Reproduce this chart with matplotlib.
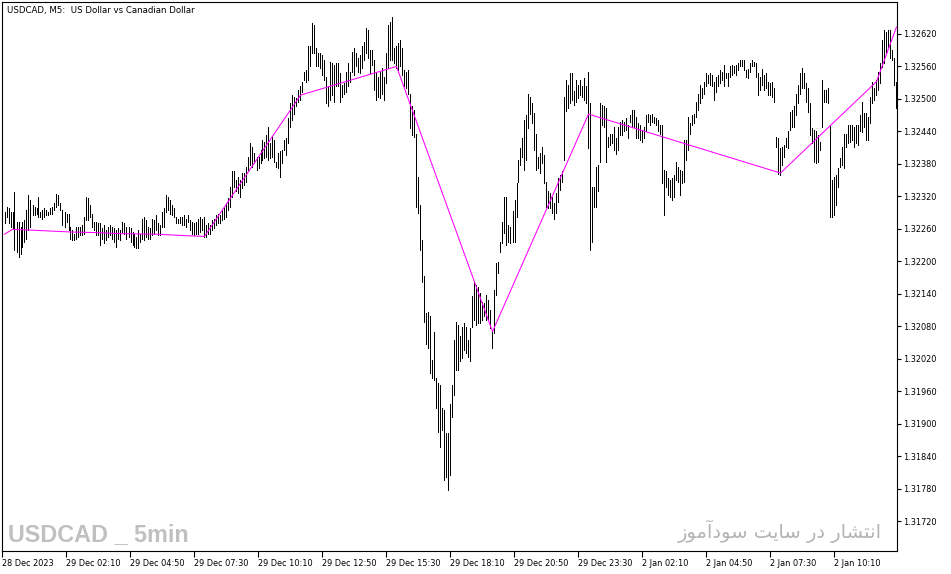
import numpy as np
import matplotlib
matplotlib.use("Agg")
import matplotlib.pyplot as plt

chart_title = "USDCAD, M5:  US Dollar vs Canadian Dollar"
watermark_left = "USDCAD _ 5min"
# "انتشار در سایت سودآموز" written with Arabic presentation forms in visual order,
# because matplotlib does no Arabic shaping / right-to-left layout itself
watermark_right = ("\uFEAF\uFEEE\uFEE3\uFE81\uFEA9\uFEEE\uFEB3 "
                   "\uFE96\uFEF3\uFE8E\uFEB3 "
                   "\uFEAD\uFEA9 "
                   "\uFEAD\uFE8E\uFEB8\uFE98\uFEE7\uFE8D")

time_labels = ["28 Dec 2023", "29 Dec 02:10", "29 Dec 04:50", "29 Dec 07:30",
               "29 Dec 10:10", "29 Dec 12:50", "29 Dec 15:30", "29 Dec 18:10",
               "29 Dec 20:50", "29 Dec 23:30", "2 Jan 02:10", "2 Jan 04:50",
               "2 Jan 07:30", "2 Jan 10:10"]
bars_per_label = 32

price_ticks = [1.32620, 1.32560, 1.32500, 1.32440, 1.32380, 1.32320, 1.32260,
               1.32200, 1.32140, 1.32080, 1.32020, 1.31960, 1.31900, 1.31840,
               1.31780, 1.31720]

# M5 bar highs / lows, in points above 1.30000 (2291 -> 1.32291)
highs_pts = [
    2291, 2301, 2298, 2291, 2291, 2328, 2273, 2273, 2264, 2273,
    2276, 2295, 2322, 2313, 2304, 2301, 2298, 2319, 2291, 2295,
    2298, 2295, 2291, 2298, 2301, 2307, 2325, 2322, 2307, 2295,
    2291, 2288, 2288, 2264, 2258, 2251, 2264, 2264, 2264, 2267,
    2282, 2319, 2316, 2304, 2288, 2273, 2273, 2270, 2270, 2261,
    2267, 2258, 2264, 2267, 2264, 2261, 2258, 2261, 2258, 2273,
    2270, 2264, 2264, 2261, 2254, 2251, 2245, 2258, 2251, 2279,
    2282, 2276, 2264, 2261, 2279, 2276, 2285, 2270, 2267, 2291,
    2298, 2322, 2319, 2313, 2304, 2298, 2282, 2279, 2282, 2282,
    2285, 2279, 2285, 2276, 2273, 2270, 2273, 2279, 2282, 2279,
    2282, 2267, 2270, 2267, 2276, 2279, 2285, 2288,
    2286, 2295, 2301, 2307, 2316, 2338, 2366, 2366, 2350, 2356,
    2350, 2363, 2363, 2375, 2393, 2418, 2412, 2400, 2393, 2393,
    2406, 2424, 2421, 2433, 2449, 2418, 2430, 2424, 2384, 2400,
    2403, 2406, 2424, 2427, 2464, 2492, 2507, 2504, 2501, 2517,
    2523, 2532, 2550, 2554, 2597, 2597, 2640, 2637, 2594, 2584,
    2584, 2581, 2572, 2541, 2523, 2569, 2566, 2563, 2566, 2566,
    2547, 2526, 2529, 2550, 2566, 2550, 2587, 2594, 2584, 2575,
    2581, 2597, 2606, 2631, 2627, 2590, 2590, 2572, 2550, 2541,
    2550, 2557, 2541, 2584, 2637, 2643, 2652, 2594, 2597, 2603,
    2609, 2594, 2554, 2550, 2554, 2510, 2486, 2480, 2436, 2356,
    2304, 2239, 2172, 2104, 2107, 2098, 2018, 2070, 1984, 1975,
    1971, 1928, 1925, 1882, 1882, 1937, 1971, 2055, 2088, 2082,
    2061, 2079, 2085, 2079, 2055, 2076, 2135, 2162, 2156, 2153,
    2141, 2125, 2122, 2138, 2128, 2110, 2073, 2147, 2196, 2199,
    2236, 2273, 2319, 2319, 2267, 2264, 2292, 2313, 2344, 2387,
    2409, 2427, 2461, 2470, 2510, 2504, 2492, 2474, 2436, 2393,
    2400, 2412, 2396, 2347, 2329, 2326, 2319, 2307, 2326, 2353,
    2360, 2366, 2504, 2535, 2526, 2547, 2547, 2514, 2535, 2526,
    2535, 2523, 2538, 2523, 2550, 2492, 2338, 2338, 2375, 2378,
    2492, 2489, 2486, 2483, 2430, 2436, 2436, 2449, 2427, 2449,
    2458, 2461, 2458, 2464, 2452, 2470, 2480, 2480, 2467, 2455,
    2452, 2443, 2449, 2470, 2473, 2470, 2473, 2467, 2464, 2461,
    2452, 2452, 2369, 2366, 2353, 2350, 2353, 2359, 2384, 2375,
    2369, 2366, 2424, 2424, 2467, 2455, 2470, 2473, 2495, 2510,
    2526, 2520, 2532, 2547, 2544, 2547, 2544, 2532, 2541, 2544,
    2553, 2550, 2563, 2547, 2547, 2560, 2563, 2560, 2563, 2566,
    2572, 2572, 2572, 2553, 2556, 2566, 2572, 2569, 2566, 2547,
    2541, 2556, 2544, 2547, 2532, 2529, 2532, 2520, 2430, 2427,
    2409, 2412, 2415, 2427, 2440, 2476, 2480, 2486, 2510, 2526,
    2547, 2557, 2547, 2529, 2520, 2492, 2446, 2443, 2440, 2433,
    2421, 2535, 2517, 2517, 2520, 2452, 2350, 2356, 2359, 2372,
    2390, 2412, 2436, 2436, 2452, 2452, 2452, 2449, 2452, 2452,
    2470, 2494, 2474, 2474, 2467, 2504, 2531, 2520, 2535, 2550,
    2566, 2609, 2627, 2624, 2627, 2627, 2590, 2576, 2531,
]
lows_pts = [
    2270, 2282, 2270, 2264, 2261, 2221, 2218, 2208, 2214, 2227,
    2236, 2242, 2258, 2264, 2285, 2285, 2288, 2282, 2282, 2279,
    2282, 2285, 2285, 2288, 2288, 2295, 2301, 2304, 2295, 2267,
    2264, 2273, 2258, 2242, 2239, 2239, 2242, 2245, 2248, 2248,
    2251, 2276, 2276, 2282, 2264, 2258, 2248, 2248, 2230, 2242,
    2233, 2239, 2245, 2248, 2242, 2236, 2227, 2242, 2239, 2254,
    2251, 2242, 2245, 2236, 2230, 2227, 2224, 2224, 2236, 2242,
    2239, 2245, 2242, 2242, 2248, 2251, 2258, 2248, 2248, 2264,
    2264, 2291, 2295, 2288, 2285, 2282, 2270, 2270, 2270, 2267,
    2267, 2264, 2273, 2258, 2251, 2248, 2251, 2251, 2254, 2258,
    2245, 2245, 2251, 2251, 2258, 2261, 2267, 2270,
    2270, 2276, 2279, 2282, 2295, 2301, 2319, 2338, 2329, 2326,
    2319, 2335, 2341, 2347, 2369, 2378, 2375, 2381, 2369, 2372,
    2381, 2387, 2390, 2393, 2387, 2390, 2393, 2384, 2375, 2372,
    2356, 2381, 2406, 2396, 2418, 2449, 2461, 2473, 2486, 2495,
    2498, 2513, 2535, 2532, 2535, 2560, 2584, 2584, 2560, 2560,
    2557, 2544, 2535, 2492, 2486, 2498, 2507, 2495, 2523, 2523,
    2495, 2504, 2510, 2513, 2523, 2532, 2550, 2544, 2560, 2550,
    2547, 2557, 2572, 2584, 2575, 2547, 2563, 2517, 2498, 2504,
    2501, 2510, 2498, 2529, 2557, 2572, 2572, 2566, 2557, 2553,
    2560, 2544, 2523, 2520, 2510, 2446, 2433, 2430, 2301, 2289,
    2221, 2162, 2088, 2048, 2039, 1993, 1984, 1981, 1928, 1885,
    1857, 1888, 1796, 1802, 1777, 1805, 1913, 1953, 1999, 1999,
    2015, 2021, 2036, 2030, 2024, 2015, 2079, 2092, 2082, 2085,
    2085, 2092, 2098, 2092, 2092, 2076, 2039, 2067, 2138, 2178,
    2218, 2233, 2252, 2230, 2236, 2233, 2236, 2236, 2282, 2347,
    2378, 2393, 2369, 2387, 2446, 2473, 2455, 2406, 2369, 2372,
    2363, 2381, 2344, 2301, 2298, 2298, 2289, 2279, 2289, 2310,
    2332, 2347, 2387, 2477, 2483, 2492, 2498, 2489, 2495, 2501,
    2507, 2504, 2498, 2492, 2409, 2221, 2236, 2301, 2301, 2330,
    2384, 2452, 2449, 2384, 2412, 2415, 2418, 2406, 2399, 2406,
    2433, 2433, 2440, 2443, 2427, 2458, 2449, 2449, 2427, 2427,
    2424, 2421, 2427, 2440, 2458, 2452, 2458, 2455, 2452, 2440,
    2436, 2344, 2286, 2338, 2322, 2319, 2313, 2319, 2350, 2347,
    2322, 2344, 2347, 2387, 2406, 2436, 2452, 2455, 2467, 2480,
    2492, 2501, 2510, 2523, 2529, 2526, 2523, 2498, 2513, 2523,
    2529, 2535, 2523, 2538, 2523, 2541, 2544, 2547, 2544, 2553,
    2560, 2560, 2553, 2541, 2538, 2550, 2560, 2560, 2541, 2507,
    2517, 2526, 2517, 2520, 2507, 2507, 2504, 2495, 2412, 2362,
    2359, 2378, 2393, 2412, 2409, 2443, 2449, 2449, 2470, 2492,
    2510, 2520, 2520, 2495, 2476, 2433, 2418, 2384, 2381, 2384,
    2406, 2449, 2495, 2495, 2492, 2282, 2282, 2286, 2304, 2338,
    2375, 2378, 2372, 2412, 2418, 2421, 2424, 2412, 2418, 2415,
    2440, 2439, 2448, 2424, 2424, 2456, 2492, 2498, 2507, 2516,
    2529, 2559, 2566, 2585, 2596, 2576, 2572, 2526, 2483,
]

# ZigZag line: bar index and price (points above 1.30000) of each vertex
zigzag_bar = [0, 4, 11, 22, 34, 46, 59, 76, 92, 100, 148, 196, 244, 292, 388, 436, 446]
zigzag_pts = [2250, 2259, 2258, 2256, 2254, 2253, 2251, 2250, 2247, 2246,
              2507, 2560, 2070, 2472, 2363, 2532, 2633]

highs = 1.3 + np.array(highs_pts) / 1e5
lows = 1.3 + np.array(lows_pts) / 1e5
zigzag_price = 1.3 + np.array(zigzag_pts) / 1e5
bar_index = np.arange(len(highs))

W, H = 951, 574
fig = plt.figure(figsize=(W / 100, H / 100), dpi=100)
fig.patch.set_facecolor("white")
ax = fig.add_axes([2 / W, 23 / H, 895 / W, 549 / H])

# one pixel wide bars, like the terminal draws them at this zoom
ax.vlines(bar_index, lows, highs, colors="black", linewidth=0.72, antialiased=False)
ax.plot(zigzag_bar, zigzag_price, color="#ff00ff", linewidth=0.75)

ax.set_xlim(-1.25, 446.25)
ax.set_ylim(1.316646, 1.326791)

ax.yaxis.tick_right()
ax.set_yticks(price_ticks)
ax.set_yticklabels([f"{p:.5f}" for p in price_ticks])
ax.set_xticks(np.arange(len(time_labels)) * bars_per_label - 1.25)
ax.set_xticklabels(time_labels, ha="left")
ax.tick_params(axis="x", length=4, width=0.8, pad=1.5, labelsize=5.9)
ax.tick_params(axis="y", length=3, width=0.8, pad=1.5, labelsize=5.9)
for sp in ax.spines.values():
    sp.set_linewidth(0.8)

fig.text(7 / W, 1 - 10 / H, chart_title, fontsize=6.2, va="center", ha="left")

fig.text(8 / W, 1 - 541 / H, watermark_left, fontsize=16.8, fontweight="bold",
         family=["Liberation Sans Narrow", "Liberation Sans", "DejaVu Sans"],
         color="#c0c0c0", va="baseline", ha="left")
fig.text(882 / W, 1 - 538 / H, watermark_right, fontsize=14,
         family="DejaVu Sans", color="#b4b4b4", va="baseline", ha="right")

fig.savefig("out.png", dpi=100)
